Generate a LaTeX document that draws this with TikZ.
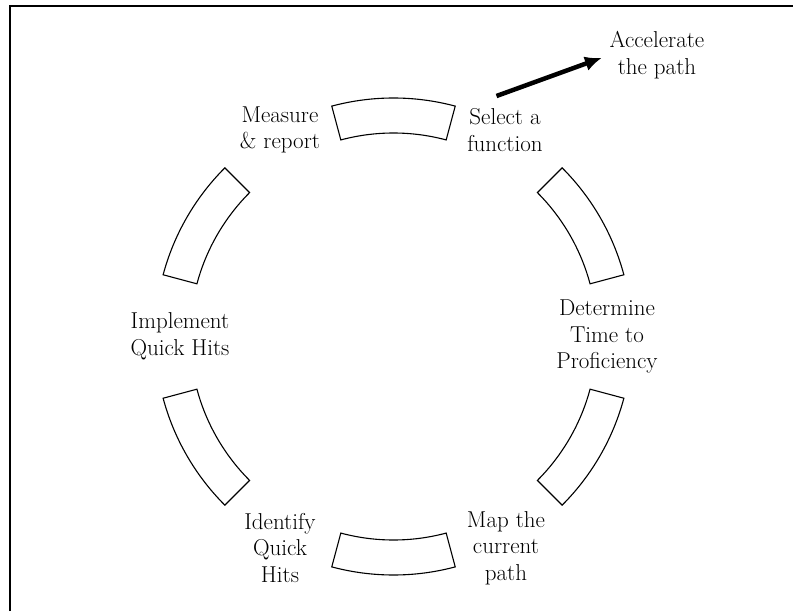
\documentclass[tikz,border=0pt]{standalone}
\usepackage{tikz}
\usetikzlibrary{arrows.meta}

\tikzset{
	lbl/.style = {align = center, inner sep = 0pt, font = \fontsize{23}{26.5}\selectfont},
	seg/.style = {draw, line width = 1.1pt, line join = miter}
}

\begin{document}
\begin{tikzpicture}[x = 1pt, y = 1pt]
	\useasboundingbox (-393.5, -274.5) rectangle (399.5, 336.5);
	\draw[line width = 1.5pt] (-383.5, -274.5) -- (-383.5, 330.5) -- (399.5, 330.5);
	\foreach \a in {90, 30, -30, -90, 150, 210}
		\draw[seg] ({\a-15}:203.5pt) arc[start angle = \a-15, end angle = \a+15, radius = 203.5pt]
			-- ({\a+15}:238.5pt) arc[start angle = \a+15, end angle = \a-15, radius = 238.5pt] -- cycle;
	\node[lbl] (select) at (111.5, 206.5) {Select a\\function};
	\node[lbl] (measure) at (-113.5, 206.5) {Measure\\\& report};
	\node[lbl] (determine) at (213.5, 0) {Determine\\Time to\\Proficiency};
	\node[lbl] (implement) at (-213.5, 0) {Implement\\Quick Hits};
	\node[lbl] (identify) at (-113.5, -211.5) {Identify\\Quick\\Hits};
	\node[lbl] (map) at (112.5, -211.5) {Map the\\current\\path};
	\node[lbl] (accel) at (263.5, 281.5) {Accelerate\\the path};
	\coordinate (acctail) at (103, 240.5);
	\draw[line width = 4.5pt, -{Latex[length = 17pt, width = 15pt]}, shorten > = 8pt] (acctail) -- (accel.west);
\end{tikzpicture}
\end{document}
